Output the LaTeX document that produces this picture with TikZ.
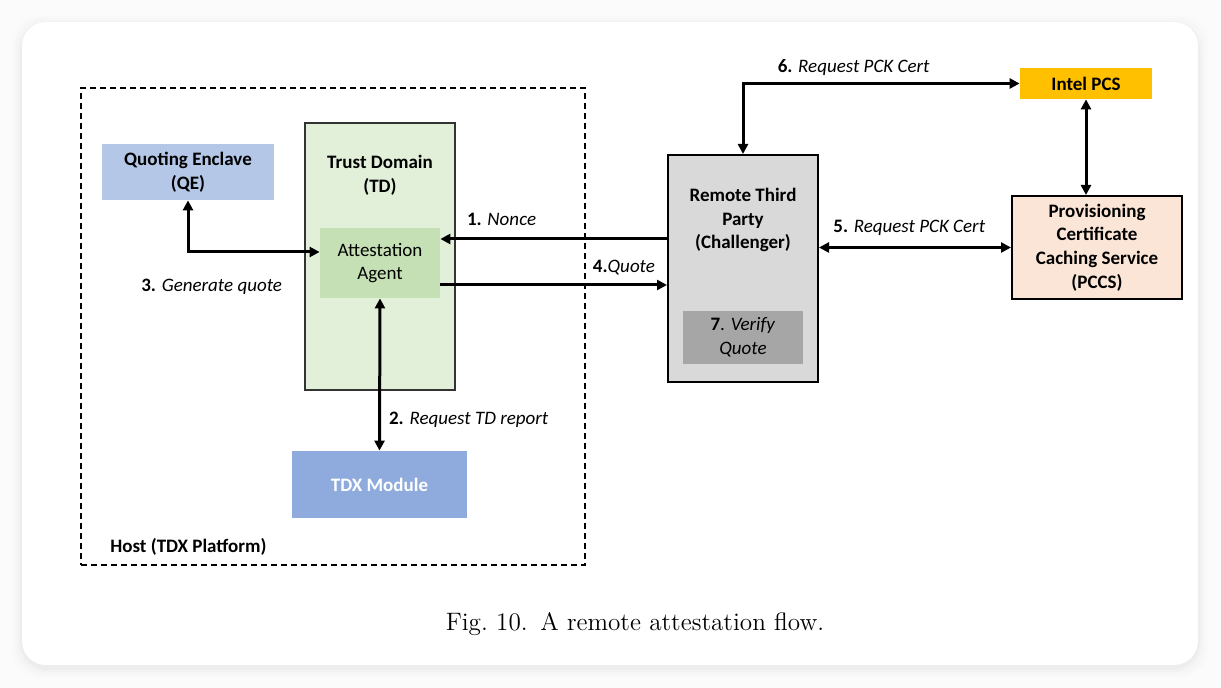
\documentclass[tikz,border=0pt]{standalone}
\usepackage{fontspec}
\newfontfamily\calibri{Carlito}
\usetikzlibrary{arrows.meta}

\definecolor{qeblue}{HTML}{B4C7E7}
\definecolor{tdgreen}{HTML}{E2F0D9}
\definecolor{aagreen}{HTML}{C5E0B4}
\definecolor{tdxblue}{HTML}{8FAADC}
\definecolor{rtpgray}{HTML}{D9D9D9}
\definecolor{verifygray}{HTML}{A6A6A6}
\definecolor{pcsyellow}{HTML}{FFC000}
\definecolor{pccsrose}{HTML}{FBE5D6}

\begin{document}
\begin{tikzpicture}[x=0.5pt,y=-0.5pt,
	box/.style={rectangle, inner sep=0pt, align=center, font=\calibri\fontsize{9.5}{11.8}\selectfont},
	bbox/.style={box, font=\calibri\bfseries\fontsize{9.5}{11.8}\selectfont},
	steplabel/.style={inner sep=1pt, font=\calibri\fontsize{9.5}{11.8}\selectfont},
	flow/.style={line width=1.5pt, -{Triangle[length=5pt,width=5pt]}},
	dflow/.style={line width=1.5pt, {Triangle[length=5pt,width=5pt]}-{Triangle[length=5pt,width=5pt]}}]
	
	%Card
	\useasboundingbox (0,0) rectangle (1221,688);
	\fill[gray!3] (0,0) rectangle (1221,688);
	\foreach \s/\o in {10/0.008, 7/0.012, 4/0.016, 2/0.02}
	\fill[black, opacity=\o, rounded corners=14pt] (22-\s,22-\s+3) rectangle (1198+\s,665+\s+3);
	\fill[white, rounded corners=12pt] (22,22) rectangle (1198,665);
	
	%Host
	\node (host) at (333,326.5) [draw, dashed, dash pattern=on 3pt off 2pt, line width=0.75pt,
	minimum width=252pt, minimum height=238.5pt]{};
	\node (hostlabel) at (110,547) [bbox, anchor=west]{Host (TDX Platform)};
	
	%Blocks of the scheme
	\node (td) at (380,256.5) [box, draw=black!80, line width=0.75pt, fill=tdgreen,
	minimum width=75pt, minimum height=133.5pt]{};
	\node (tdlabel) at (380,175) [bbox]{Trust Domain\\(TD)};
	\node (aa) at (380,263) [box, fill=aagreen, minimum width=60pt, minimum height=35pt]
	{Attestation\\Agent};
	\node (qe) at (188,172) [bbox, fill=qeblue, minimum width=86pt, minimum height=28pt]
	{Quoting Enclave\\(QE)};
	\node (tdx) at (379.5,484.5) [bbox, fill=tdxblue, text=white, minimum width=87.5pt,
	minimum height=33.5pt]{TDX Module};
	\node (rtp) at (743,268.5) [box, draw=black, line width=1pt, fill=rtpgray,
	minimum width=75pt, minimum height=113.5pt]{};
	\node (rtplabel) at (743,220) [bbox]{Remote Third\\Party\\(Challenger)};
	\node (verify) at (743,337.5) [box, fill=verifygray, minimum width=60pt,
	minimum height=26.5pt]{\textbf{7}. \textit{Verify}\\\textit{Quote}};
	\node (intel) at (1086,83.5) [bbox, fill=pcsyellow, minimum width=66pt,
	minimum height=15.5pt]{Intel PCS};
	\node (pccs) at (1097,247.5) [bbox, draw=black, line width=1pt, fill=pccsrose,
	minimum width=85pt, minimum height=51.5pt]
	{Provisioning\\Certificate\\Caching Service\\(PCCS)};
	
	%Linx
	\draw[flow] ([yshift=12pt]aa.east -| rtp.west) -- node[steplabel, above=5pt, pos=0.73]
	{\textbf{1.} \textit{Nonce}} ([yshift=12pt]aa.east);
	\draw[flow] ([yshift=-11pt]aa.east) -- node[steplabel, above=3pt, pos=0.81]
	{\textbf{4.}\textit{Quote}} ([yshift=-11pt]aa.east -| rtp.west);
	\draw[dflow] (qe.south) |- node[steplabel, below=12pt, pos=0.59]
	{\textbf{3.} \textit{Generate quote}} ([yshift=5.5pt]aa.west);
	\draw[dflow] (aa.south) -- node[steplabel, right=3pt, pos=0.8]
	{\textbf{2.} \textit{Request TD report}} (tdx.north);
	\draw[dflow] (pccs.west -| rtp.east) -- node[steplabel, above=4pt, pos=0.47]
	{\textbf{5.} \textit{Request PCK Cert}} (pccs.west);
	\draw[dflow] (rtp.north) |- node[steplabel, above=2pt, pos=0.7]
	{\textbf{6.} \textit{Request PCK Cert}} (intel.west);
	\draw[dflow] (intel.south) -- (intel.south |- pccs.north);
	
	%Caption
	\node (caption) at (635,624) [font=\fontsize{12.6}{15}\selectfont]
	{Fig.~10.\enskip A remote attestation flow.};
	
\end{tikzpicture}
\end{document}
